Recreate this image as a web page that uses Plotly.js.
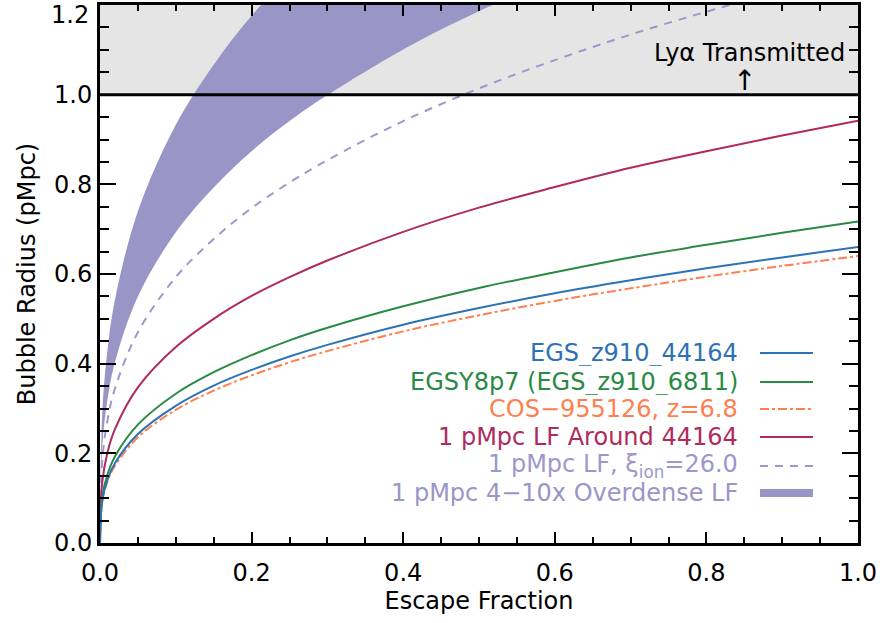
<!DOCTYPE html>
<html>
<head>
<meta charset="utf-8">
<script src="https://cdn.plot.ly/plotly-3.0.1.min.js"></script>
<style>html,body{margin:0;padding:0;background:#fff;}#chart{width:880px;height:623px;}</style>
</head>
<body>
<div id="chart"></div>
<script>
// Escape fraction sample points (x)
const fesc = [0, 0.003, 0.01, 0.02, 0.05, 0.1, 0.15, 0.2, 0.25, 0.3, 0.4, 0.5, 0.6, 0.7, 0.8, 0.9, 1.0];
// Bubble radius (pMpc)
const egs44164   = [0, 0.095, 0.142, 0.179, 0.243, 0.306, 0.351, 0.386, 0.416, 0.442, 0.487, 0.524, 0.557, 0.586, 0.613, 0.637, 0.660];
const egsy8p7    = [0, 0.103, 0.154, 0.194, 0.264, 0.333, 0.381, 0.419, 0.452, 0.480, 0.528, 0.569, 0.604, 0.637, 0.665, 0.692, 0.717];
const cos955126  = [0, 0.092, 0.138, 0.173, 0.236, 0.297, 0.340, 0.374, 0.403, 0.428, 0.472, 0.508, 0.540, 0.568, 0.594, 0.618, 0.640];
const lfAround   = [0, 0.136, 0.203, 0.255, 0.347, 0.437, 0.500, 0.551, 0.593, 0.630, 0.694, 0.748, 0.794, 0.837, 0.874, 0.909, 0.942];
const lfXiIon    = [0, 0.184, 0.275, 0.346, 0.470, 0.593, 0.678, 0.747, 0.804, 0.854, 0.941, 1.014, 1.077, 1.134, 1.185, 1.232, 1.277];
const overLow    = [0, 0.215, 0.321, 0.405, 0.550, 0.693, 0.793, 0.874, 0.941, 0.999, 1.101, 1.186, 1.259, 1.327, 1.386, 1.442, 1.494];
const overHigh   = [0, 0.290, 0.432, 0.545, 0.740, 0.933, 1.067, 1.176, 1.266, 1.345, 1.481, 1.596, 1.695, 1.785, 1.866, 1.941, 2.010];

const legendLabels = ["EGS_z910_44164", "EGSY8p7 (EGS_z910_6811)", "COS\u2212955126, z=6.8",
  "1 pMpc LF Around 44164", "1 pMpc LF, \u03be<sub>ion</sub>=26.0", "1 pMpc 4\u221210x Overdense LF"];
const colors = ["#2c72b5", "#2a8a44", "#ff7f50", "#b02a5e", "#9d98cc", "#9a95c7"];
const dashes = ["solid", "solid", "dashdot", "solid", "8px,7px", "solid"];
const xTicks = [0, 0.2, 0.4, 0.6, 0.8, 1.0];
const xTickText = ["0.0", "0.2", "0.4", "0.6", "0.8", "1.0"];
const yTicks = [0, 0.2, 0.4, 0.6, 0.8, 1.0];
const yTickText = ["0.0", "0.2", "0.4", "0.6", "0.8", "1.0"];

const FONT = "DejaVu Sans";
const FS = 24;
const traces = [
  {x: fesc, y: overLow, mode: "lines", line: {width: 0, shape: "spline", color: colors[5]}, hoverinfo: "skip"},
  {x: fesc, y: overHigh, mode: "lines", fill: "tonexty", fillcolor: colors[5], line: {width: 0, shape: "spline", color: colors[5]}, hoverinfo: "skip"},
  {x: fesc, y: lfXiIon, mode: "lines", line: {width: 2, shape: "spline", color: colors[4], dash: dashes[4]}},
  {x: fesc, y: lfAround, mode: "lines", line: {width: 2, shape: "spline", color: colors[3]}},
  {x: fesc, y: cos955126, mode: "lines", line: {width: 2, shape: "spline", color: colors[2], dash: dashes[2]}},
  {x: fesc, y: egsy8p7, mode: "lines", line: {width: 2, shape: "spline", color: colors[1]}},
  {x: fesc, y: egs44164, mode: "lines", line: {width: 2, shape: "spline", color: colors[0]}}
];

const rowsY = [0.3532, 0.2993, 0.2491, 0.1970, 0.1431, 0.0929];
const annotations = [];
const shapes = [
  {type: "rect", xref: "paper", yref: "y", x0: 0, x1: 1, y0: 1.0, y1: 1.2, fillcolor: "#e5e5e5", line: {width: 0}, layer: "below"},
  {type: "line", xref: "paper", yref: "y", x0: 0, x1: 1, y0: 1.0, y1: 1.0, line: {color: "#000", width: 3}, layer: "above"}
];
legendLabels.forEach((t, i) => {
  annotations.push({xref: "paper", yref: "paper", x: 0.844, y: rowsY[i], xanchor: "right", yanchor: "middle",
    height: 26, text: t, showarrow: false, font: {family: FONT, size: FS, color: colors[i]}});
  shapes.push({type: "line", xref: "paper", yref: "paper", x0: 0.8707, x1: 0.9406, y0: rowsY[i], y1: rowsY[i],
    line: {color: colors[i], width: i === 5 ? 8 : 2, dash: dashes[i]}});
});
annotations.push({xref: "x", yref: "y", x: 0.985, y: 1.094, xanchor: "right", yanchor: "middle",
  text: "Ly\u03b1 Transmitted", showarrow: false, font: {family: FONT, size: FS, color: "#000"}});
annotations.push({xref: "x", yref: "y", x: 0.85, y: 1.0, xanchor: "center", yanchor: "bottom", yshift: -4,
  text: "\u2191", showarrow: false, font: {family: FONT, size: 28, color: "#000"}});
annotations.push({xref: "paper", yref: "paper", x: 0, y: 0.981, xanchor: "right", yanchor: "middle", xshift: -9,
  text: "1.2", showarrow: false, font: {family: FONT, size: FS, color: "#000"}});

const layout = {
  width: 880, height: 623,
  margin: {l: 100, r: 22, t: 5, b: 80},
  paper_bgcolor: "#fff", plot_bgcolor: "rgba(0,0,0,0)",
  showlegend: false,
  font: {family: FONT, size: FS, color: "#000"},
  xaxis: {range: [0, 1], tickvals: xTicks, ticktext: xTickText,
    ticks: "inside", ticklen: 11, tickwidth: 2, tickcolor: "#000", ticklabelstandoff: 6,
    minor: {dtick: 0.05, ticks: "inside", ticklen: 6, tickwidth: 2, tickcolor: "#000"},
    showline: true, linewidth: 3, linecolor: "#000", mirror: "allticks", showgrid: false, zeroline: false,
    tickfont: {family: FONT, size: FS}, title: {text: "Escape Fraction", font: {family: FONT, size: FS}, standoff: 5}},
  yaxis: {range: [0, 1.2], tickvals: yTicks, ticktext: yTickText,
    ticks: "inside", ticklen: 16, tickwidth: 2, tickcolor: "#000",
    minor: {dtick: 0.05, ticks: "inside", ticklen: 9, tickwidth: 2, tickcolor: "#000"},
    showline: true, linewidth: 3, linecolor: "#000", mirror: "allticks", showgrid: false, zeroline: false,
    tickfont: {family: FONT, size: FS}, title: {text: "Bubble Radius (pMpc)", font: {family: FONT, size: FS}, standoff: 12}},
  shapes: shapes,
  annotations: annotations
};
Plotly.newPlot("chart", traces, layout, {displayModeBar: false, staticPlot: true});
</script>
</body>
</html>
